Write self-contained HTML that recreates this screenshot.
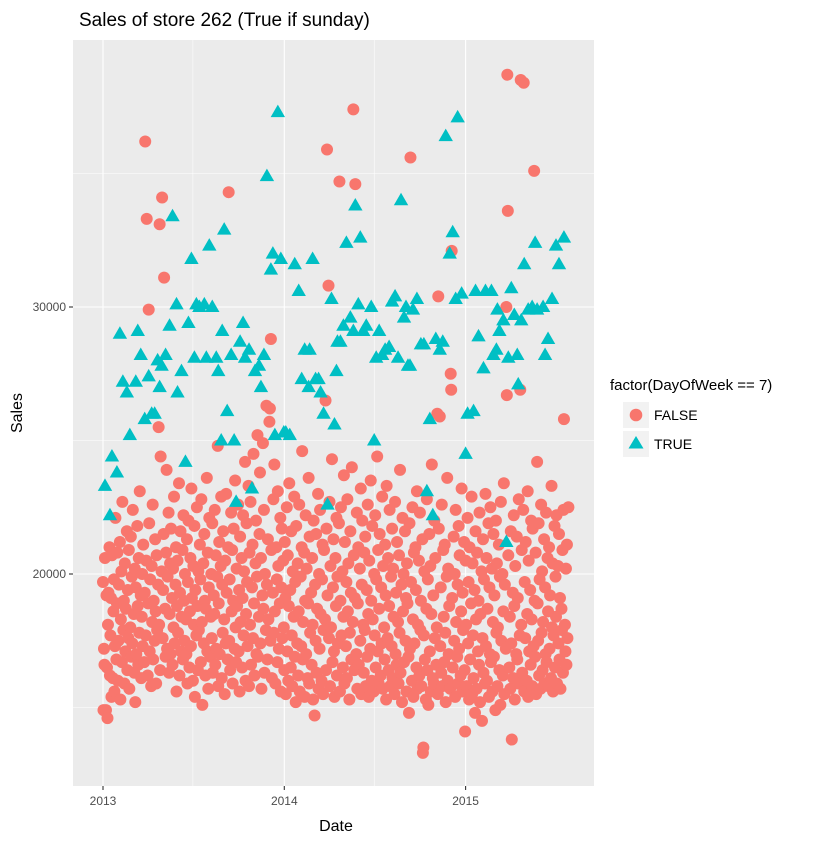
<!DOCTYPE html>
<html><head><meta charset="utf-8"><style>
html,body{margin:0;padding:0;background:#fff;}
svg text{font-family:"Liberation Sans",Arial,sans-serif;}
</style></head><body>
<svg id="chart" width="840" height="840" xmlns="http://www.w3.org/2000/svg">
<text x="79" y="26" font-size="19" fill="#000">Sales of store 262 (True if sunday)</text>
<rect x="73" y="40" width="521" height="746" fill="#EBEBEB"/>
<g id="grid"></g>
<g id="pts"></g>
<g id="axes"></g>
<text x="336" y="831" font-size="16" text-anchor="middle" fill="#000">Date</text>
<text x="22" y="413" font-size="16" text-anchor="middle" fill="#000" transform="rotate(-90 22 413)">Sales</text>
<g>
<text x="610" y="390" font-size="15" fill="#000">factor(DayOfWeek == 7)</text>
<rect x="623" y="402" width="26" height="26" fill="#F2F2F2"/>
<circle cx="636" cy="415" r="6.3" fill="#F8766D"/>
<text x="654" y="420" font-size="14" fill="#000">FALSE</text>
<rect x="623" y="431" width="26" height="26" fill="#F2F2F2"/>
<polygon points="636,436 643.5,448.5 628.5,448.5" fill="#00BFC4"/>
<text x="654" y="449" font-size="14" fill="#000">TRUE</text>
</g>
</svg>
<script>
// x values: days since 2013-01-01; y values: sales in thousands
const xTickLabels = ["2013","2014","2015"];
const xTickDays = [0,365,730];
const yTickLabels = ["20000","30000"];
const yTickValues = [20,30];
const yMinorValues = [15,25,35];
const xMinorDays = [181,546];
const trueDays = [4,14,18,28,34,40,48,54,66,70,76,84,92,98,104,110,114,118,126,134,140,148,150,158,166,172,178,184,188,194,204,208,214,220,228,232,238,240,244,250,258,264,268,276,282,286,294,300,306,314,318,324,330,338,342,346,352,358,364,368,376,386,394,400,406,414,416,422,428,434,438,444,452,460,466,470,472,478,484,490,498,504,508,514,518,524,530,540,546,550,556,562,568,576,582,588,594,600,606,610,614,618,624,632,640,646,652,658,664,670,678,684,690,698,704,710,714,722,730,734,746,750,756,766,770,782,786,792,794,798,806,812,816,822,828,834,836,842,848,856,864,870,874,886,890,896,904,912,918,928];
const trueSales = [23.3,22.2,24.4,23.8,29.0,27.2,26.8,25.2,27.2,29.1,28.2,25.8,27.4,26.0,26.0,28.0,27.0,27.8,28.2,29.3,33.4,30.1,26.8,27.6,24.2,29.4,31.8,28.1,30.1,30.0,30.1,28.1,32.3,30.0,28.1,27.6,25.0,29.1,32.9,26.1,28.2,25.0,22.7,28.7,29.4,28.1,28.4,23.2,27.6,27.8,27.0,28.2,34.9,31.4,32.0,25.2,37.3,31.8,25.3,25.3,25.2,31.6,30.6,27.3,28.4,27.0,28.4,31.8,27.3,27.3,26.8,26.0,22.6,30.3,25.6,27.6,28.7,28.7,29.3,32.4,29.6,29.1,33.8,30.1,32.6,29.1,29.3,30.0,25.0,28.1,29.1,28.2,28.4,28.5,30.2,30.4,28.1,34.0,29.6,30.0,27.8,27.8,29.9,30.3,28.6,28.6,23.1,25.8,22.2,28.8,28.4,28.7,36.4,32.0,32.8,30.3,37.1,30.5,24.5,26.0,26.1,30.6,28.9,27.7,30.6,30.6,28.2,28.4,29.9,29.1,29.5,21.2,28.1,30.7,29.7,28.2,27.1,29.5,31.6,29.9,30.0,32.4,29.9,30.0,28.2,28.8,30.3,32.3,31.6,32.6];
const falseSales = [
19.7,14.9,17.2,16.6,20.6,14.9,19.2,16.5,14.6,18.1,19.3,21.0,16.2,17.7,19.1,15.4,20.7,16.1,18.6,19.8,15.6,17.3,22.1,16.8,
18.9,20.8,16.0,17.5,19.6,21.2,15.3,18.3,20.1,16.7,22.7,17.9,19.0,15.9,20.4,17.1,18.7,21.6,16.4,19.4,17.6,20.9,15.7,18.0,
21.4,16.9,19.9,17.4,22.4,18.5,16.3,20.2,15.2,19.5,17.0,21.8,18.8,16.6,20.6,17.8,23.1,19.2,16.1,18.4,20.0,17.3,21.1,16.7,
19.3,36.2,17.7,20.5,33.3,16.2,18.9,29.9,21.9,17.1,19.8,15.8,20.3,18.2,22.6,16.8,19.0,17.5,21.3,18.6,15.9,20.7,17.9,19.6,
25.5,18.1,33.1,16.4,24.4,20.1,34.1,17.6,19.4,21.5,31.1,18.7,16.9,20.8,23.9,17.2,19.9,22.3,16.3,18.5,20.4,17.0,21.7,19.1,
16.6,20.2,18.0,22.9,17.4,19.6,21.0,15.6,18.8,20.5,17.8,23.4,16.2,19.3,21.6,17.1,18.4,20.9,16.8,22.2,19.0,17.5,20.0,18.3,
17.0,21.3,15.9,19.7,22.0,16.5,18.6,20.6,17.3,23.2,19.1,16.0,20.3,18.1,21.8,15.4,19.4,17.7,22.5,18.8,16.4,20.1,17.9,21.1,
19.8,16.7,22.8,18.2,15.1,20.4,17.4,21.5,19.0,16.2,18.7,23.6,17.1,20.8,15.7,19.5,22.1,16.9,18.4,20.0,17.6,21.9,16.3,19.2,
18.5,22.4,16.6,20.7,17.2,19.9,24.8,15.8,18.9,21.2,17.0,20.3,22.9,16.1,19.6,17.8,21.6,18.3,15.5,20.5,17.4,23.0,19.3,16.8,
21.0,34.3,17.5,19.8,16.4,22.3,18.6,20.9,15.9,19.0,21.7,17.2,23.5,18.0,16.7,20.2,18.8,22.6,17.1,19.4,15.6,21.4,18.2,20.6,
16.5,19.1,22.2,17.7,20.1,24.2,16.0,18.5,21.9,19.7,17.3,23.3,15.8,20.8,18.1,22.7,16.6,19.5,21.1,17.6,24.5,18.9,16.2,20.4,
22.0,17.0,19.9,25.2,16.9,18.4,21.5,23.8,17.4,20.6,15.7,19.2,24.9,18.7,22.4,16.3,20.0,17.9,26.3,19.6,16.8,21.3,18.3,25.7,
26.2,17.5,28.8,20.9,16.1,19.3,22.8,17.8,24.1,18.6,15.9,21.0,19.8,16.7,23.1,20.3,17.2,18.9,22.1,15.6,19.5,21.7,17.6,20.5,
18.0,16.4,21.2,19.1,15.5,22.5,17.1,20.7,16.0,18.8,23.4,19.4,16.5,21.6,17.7,15.8,20.1,18.4,22.9,16.9,19.7,15.2,21.8,17.4,
20.4,16.2,18.6,22.6,15.6,19.9,17.3,21.0,24.6,16.8,18.2,20.8,15.4,19.0,22.2,17.0,20.2,16.1,18.9,23.6,15.9,21.4,17.8,19.3,
16.6,20.6,18.1,15.3,22.0,14.7,19.6,17.5,21.5,16.3,18.7,23.0,15.7,20.0,17.2,22.4,18.5,16.0,19.8,21.1,15.5,17.9,20.9,18.3,
26.5,16.4,21.7,35.9,19.2,30.8,17.6,22.7,15.8,20.3,18.0,24.3,16.7,19.5,21.3,17.1,15.4,20.6,18.8,22.1,16.2,19.9,17.4,21.9,
34.7,15.6,19.0,22.5,17.7,20.1,16.5,18.4,23.7,15.9,21.2,17.3,19.7,16.1,22.8,18.6,20.4,15.3,17.8,21.6,19.3,16.8,24.0,18.2,
37.4,20.7,16.4,19.1,34.6,17.0,22.3,15.7,18.9,21.0,16.6,20.2,17.5,23.2,15.5,19.6,22.0,18.1,16.3,20.8,17.9,21.4,15.8,19.4,
16.9,22.6,18.5,15.4,20.5,17.2,23.5,19.0,16.0,21.8,18.3,15.6,20.0,17.7,22.2,16.5,19.8,24.4,17.1,20.9,15.9,18.7,21.5,16.2,
19.5,17.4,22.9,15.7,20.3,18.0,16.8,21.1,19.2,15.3,23.3,17.6,20.6,16.4,18.8,22.4,15.8,19.9,17.3,21.7,16.1,20.2,18.4,15.5,
22.7,17.0,19.3,16.6,21.2,18.2,15.9,20.7,17.8,23.9,16.3,19.6,15.2,22.1,18.6,20.0,16.7,21.6,17.5,19.1,15.6,20.4,18.9,16.9,
14.8,21.9,17.2,35.6,19.7,16.0,22.5,18.3,15.4,20.8,17.4,21.0,19.4,16.5,23.1,15.7,18.1,20.5,16.2,22.3,17.9,19.0,15.8,21.3,
13.3,13.5,17.7,20.1,16.8,15.3,18.7,22.8,16.4,19.8,15.1,21.5,17.1,20.3,15.6,18.5,24.1,16.1,19.2,15.9,22.0,17.6,20.6,16.6,
18.0,26.0,15.5,30.4,21.7,25.9,17.3,19.5,16.3,22.6,15.8,20.9,18.4,16.7,21.1,17.8,15.2,19.9,23.6,16.0,20.2,17.0,18.8,15.7,
27.5,26.9,32.1,19.1,16.5,21.4,17.5,20.0,15.4,22.4,18.2,16.9,19.6,15.9,21.8,17.2,20.7,16.2,18.6,23.2,15.6,19.3,17.9,21.2,
16.4,14.1,20.5,18.1,15.8,22.1,17.4,19.7,15.3,21.0,16.8,18.9,22.9,15.5,20.4,17.7,16.1,19.4,14.8,21.6,18.3,15.7,20.8,17.1,
19.0,16.6,22.3,15.2,18.5,20.1,14.5,17.6,21.3,16.3,19.8,15.9,23.0,17.3,20.6,16.0,18.7,21.9,15.4,19.5,17.0,22.5,16.7,20.2,
15.6,18.2,21.5,16.9,19.2,14.9,22.0,17.8,20.4,15.8,18.0,21.1,16.4,19.9,15.1,22.7,17.5,20.0,16.2,18.6,23.4,15.5,19.6,17.2,
30.0,26.7,38.7,33.6,20.7,16.5,18.4,15.7,21.6,17.4,13.8,19.3,16.1,22.2,18.8,15.3,20.3,17.0,21.4,16.8,19.1,15.9,22.8,17.7,
26.9,38.5,18.1,20.9,16.3,22.4,38.4,15.6,19.7,17.6,21.2,16.0,18.5,23.1,15.4,20.5,17.1,19.4,16.6,22.0,18.3,15.8,21.7,17.3,
35.1,19.0,16.9,20.8,15.5,24.2,18.9,17.5,21.9,16.2,19.8,15.7,22.6,17.8,20.1,16.4,18.2,21.3,15.9,19.5,17.0,22.3,16.7,20.6,
18.6,15.8,21.0,17.2,19.2,16.1,23.3,18.0,20.4,15.6,17.7,21.8,16.5,19.9,18.4,22.2,15.9,20.3,17.4,21.5,16.8,19.1,15.7,18.7,
17.9,20.9,16.3,22.4,25.8,18.1,17.1,20.2,16.6,21.1,17.6,22.5
];
const SX = d => 103 + d * (181.3 / 365);
const SY = v => 307 - (v - 30) * 26.7;
const ns = "http://www.w3.org/2000/svg";
const grid = document.getElementById('grid');
const axes = document.getElementById('axes');
const pts = document.getElementById('pts');
function mk(tag, attrs, parent){ const e = document.createElementNS(ns, tag); for (const k in attrs) e.setAttribute(k, attrs[k]); parent.appendChild(e); return e; }
yMinorValues.forEach(v => {
  const l = mk('line', {x1:73, x2:594, y1:SY(v), y2:SY(v), stroke:'#fff', 'stroke-width':0.55}, grid);
  
  
});
xMinorDays.forEach(d => {
  const l = mk('line', {x1:SX(d), x2:SX(d), y1:40, y2:786, stroke:'#fff', 'stroke-width':0.55}, grid);
  
  
});
yTickValues.forEach((v, i) => {
  const l = mk('line', {x1:73, x2:594, y1:SY(v), y2:SY(v), stroke:'#fff', 'stroke-width':1.1}, grid);
  
  
  const t = mk('line', {x1:69, x2:73, y1:SY(v), y2:SY(v), stroke:'#333', 'stroke-width':1.1}, axes);
  
  
  const tx = mk('text', {x:66, y:SY(v)+4, 'font-size':12, 'text-anchor':'end', fill:'#4D4D4D'}, axes);
  tx.textContent = yTickLabels[i];
  
  
});
xTickDays.forEach((d, i) => {
  const l = mk('line', {x1:SX(d), x2:SX(d), y1:40, y2:786, stroke:'#fff', 'stroke-width':1.1}, grid);
  
  
  const t = mk('line', {x1:SX(d), x2:SX(d), y1:786, y2:790, stroke:'#333', 'stroke-width':1.1}, axes);
  
  
  const tx = mk('text', {x:SX(d), y:805, 'font-size':12, 'text-anchor':'middle', fill:'#4D4D4D'}, axes);
  tx.textContent = xTickLabels[i];
  
  
});
// FALSE days: all non-Sundays from 2013-01-01 (Tuesday); day 5 is first Sunday
const falseDays = [];
for (let d = 0; falseDays.length < falseSales.length; d++) { if ((d - 5) % 7 !== 0) falseDays.push(d); }
falseSales.forEach((v, i) => {
  const c = mk('circle', {cx:SX(falseDays[i]), cy:SY(v), r:6, fill:'#F8766D'}, pts);
  
  
});
trueSales.forEach((v, i) => {
  const x = SX(trueDays[i]), y = SY(v);
  const p = mk('polygon', {points:`${x},${y-7.5} ${x+7.2},${y+5} ${x-7.2},${y+5}`, fill:'#00BFC4'}, pts);
  
  
});
</script>
</body></html>
